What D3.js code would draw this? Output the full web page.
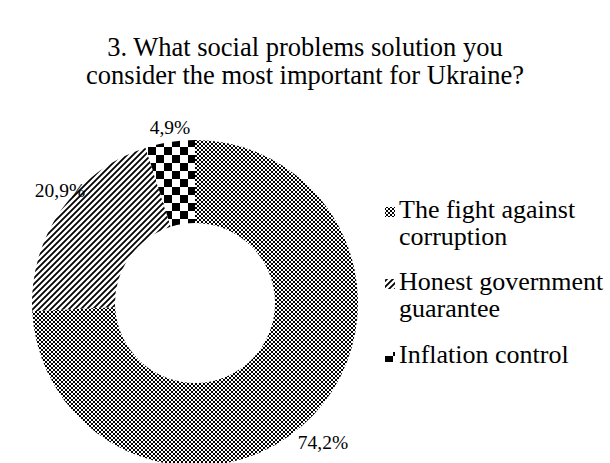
<!DOCTYPE html>
<html>
<head>
<meta charset="utf-8">
<script src="https://cdn.jsdelivr.net/npm/d3@7"></script>
<style>
  html, body { margin: 0; padding: 0; background: #fff; }
  svg { display: block; }
  text { font-family: "Liberation Serif", "Times New Roman", serif; fill: #000; }
</style>
</head>
<body>
<svg id="chart" width="610" height="463"></svg>
<script>
// Survey answers, share of respondents (%)
const categories = ["The fight against corruption", "Honest government guarantee", "Inflation control"];
const values = [74.2, 20.9, 4.9];
const valueLabels = ["74,2%", "20,9%", "4,9%"];
const legendLines = [["The fight against", "corruption"], ["Honest government", "guarantee"], ["Inflation control"]];
const titleLines = ["3. What social problems solution you", "consider the most important for Ukraine?"];

const cx = 195, cy = 303, outerR = 163, innerR = 80;

const svg = d3.select("#chart");
const defs = svg.append("defs");

// Fine checkerboard
const pFine = defs.append("pattern").attr("id", "pat0").attr("patternUnits", "userSpaceOnUse")
  .attr("width", 4).attr("height", 4);
pFine.append("rect").attr("width", 4).attr("height", 4).attr("fill", "#fff");
pFine.append("rect").attr("width", 2).attr("height", 2).attr("fill", "#000");
pFine.append("rect").attr("x", 2).attr("y", 2).attr("width", 2).attr("height", 2).attr("fill", "#000");

// Wide upward diagonal stripes
const pDiag = defs.append("pattern").attr("id", "pat1").attr("patternUnits", "userSpaceOnUse")
  .attr("width", 6).attr("height", 6);
pDiag.append("rect").attr("width", 6).attr("height", 6).attr("fill", "#fff");
pDiag.append("path").attr("d", "M-1,7 L7,-1 M-4,4 L4,-4 M2,10 L10,2")
  .attr("stroke", "#000").attr("stroke-width", 1.8);

// Large checkerboard
const pBig = defs.append("pattern").attr("id", "pat2").attr("patternUnits", "userSpaceOnUse")
  .attr("width", 16).attr("height", 16).attr("x", 1).attr("y", 4);
pBig.append("rect").attr("width", 16).attr("height", 16).attr("fill", "#fff");
pBig.append("rect").attr("width", 8).attr("height", 8).attr("fill", "#000");
pBig.append("rect").attr("x", 8).attr("y", 8).attr("width", 8).attr("height", 8).attr("fill", "#000");

const fills = ["url(#pat0)", "url(#pat1)", "url(#pat2)"];

// Title
svg.append("g").selectAll("text").data(titleLines).join("text")
  .attr("x", 305).attr("y", (d, i) => 56 + i * 28)
  .attr("text-anchor", "middle").attr("font-size", 26.5)
  .text(d => d);

// Donut
const data = categories.map((c, i) => ({ name: c, value: values[i], label: valueLabels[i] }));
const pie = d3.pie().value(d => d.value).sort(null);
const arc = d3.arc().innerRadius(innerR).outerRadius(outerR);
const arcs = pie(data);

const g = svg.append("g").attr("transform", `translate(${cx},${cy})`);
g.selectAll("path").data(arcs).join("path")
  .attr("d", arc)
  .attr("fill", (d, i) => fills[i]);

// Value labels outside the ring
const labelPos = [
  { dx: 128, dy: 146 },   // 74,2%
  { dx: -135, dy: -106 }, // 20,9%
  { dx: -25, dy: -169 }   // 4,9%
];
g.selectAll("text.val").data(arcs).join("text")
  .attr("class", "val")
  .attr("x", (d, i) => labelPos[i].dx)
  .attr("y", (d, i) => labelPos[i].dy)
  .attr("text-anchor", "middle")
  .attr("font-size", 19.5)
  .text(d => d.data.label);

// Legend
const legendTop = [218, 290, 363];
const lg = svg.append("g");
data.forEach((d, i) => {
  const item = lg.append("g");
  item.append("rect")
    .attr("x", 385).attr("y", legendTop[i] - 11)
    .attr("width", 10).attr("height", 10)
    .attr("fill", fills[i]);
  item.selectAll("text").data(legendLines[i]).join("text")
    .attr("x", 399).attr("y", (t, j) => legendTop[i] + j * 27)
    .attr("font-size", 26)
    .text(t => t);
});
</script>
</body>
</html>
